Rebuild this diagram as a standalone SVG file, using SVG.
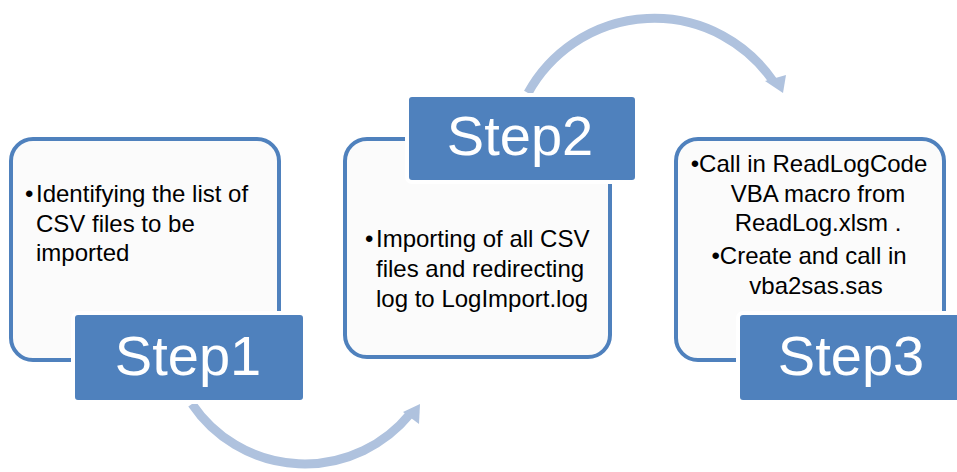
<svg xmlns="http://www.w3.org/2000/svg" width="957" height="472" viewBox="0 0 957 472">
<style>
.box{fill:#fbfbfb;stroke:#4f81bd;stroke-width:4}
.step{fill:#4f81bd;stroke:#ffffff;stroke-width:4}
.stxt{font-family:"Liberation Sans",Arial,sans-serif;font-size:56px;fill:#ffffff;text-anchor:middle}
.btxt{font-family:"Liberation Sans",Arial,sans-serif;font-size:24px;fill:#000000}
.mid{text-anchor:middle}
.arc{fill:none;stroke:#afc2de;stroke-width:9}
.head{fill:#afc2de}
</style>
<rect width="957" height="472" fill="#ffffff"/>
<g id="connectors">
<path class="arc" d="M 192 404 A 136 136 0 0 0 410 414"/>
<polygon class="head" points="420,404 403,412 419,424"/>
<path class="arc" d="M 528 93 A 144 144 0 0 1 773 81"/>
<polygon class="head" points="783,93 765,81 786,75"/>
</g>
<g id="node1">
<rect class="box" x="11" y="139" width="268" height="221" rx="22"/>
<text class="btxt" x="25" y="202">•<tspan x="36">Identifying the list of</tspan></text>
<text class="btxt" x="36" y="232">CSV files to be</text>
<text class="btxt" x="36" y="261">imported</text>
<rect class="step" x="73" y="313" width="232" height="89" rx="5"/>
<text class="stxt" x="188" y="375">Step1</text>
</g>
<g id="node2">
<rect class="box" x="345" y="139" width="265" height="218" rx="22"/>
<rect class="step" x="407" y="95" width="230" height="87" rx="5"/>
<text class="stxt" x="520" y="155">Step2</text>
<text class="btxt" x="365" y="247">•<tspan x="376">Importing of all CSV</tspan></text>
<text class="btxt" x="376" y="277">files and redirecting</text>
<text class="btxt" x="376" y="307">log to LogImport.log</text>
</g>
<g id="node3">
<rect class="box" x="676" y="139" width="268" height="221" rx="22"/>
<text class="btxt mid" x="809" y="172">•Call in ReadLogCode</text>
<text class="btxt mid" x="818" y="202">VBA macro from</text>
<text class="btxt mid" x="818" y="231">ReadLog.xlsm .</text>
<text class="btxt mid" x="809" y="264">•Create and call in</text>
<text class="btxt mid" x="816" y="294">vba2sas.sas</text>
<rect class="step" x="738" y="313" width="230" height="89" rx="5"/>
<text class="stxt" x="851" y="375">Step3</text>
</g>
</svg>
